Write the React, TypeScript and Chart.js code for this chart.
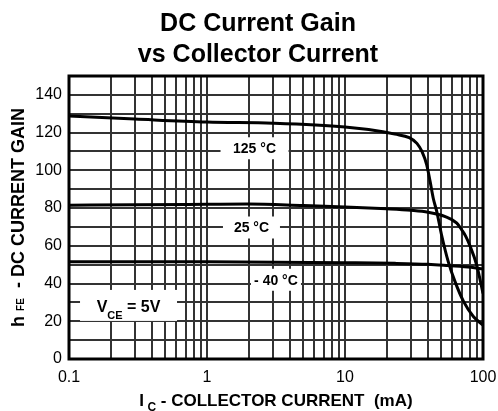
import { useEffect, useRef } from "react";
import { Chart, registerables } from "chart.js";

Chart.register(...registerables);

const FONT = "'Liberation Sans', Arial, Helvetica, sans-serif";

const TITLE_LINES = ["DC Current Gain", "vs Collector Current"];

// x grid (log) and labels
const X_GRID = [
  0.1, 0.2, 0.3, 0.4, 0.5, 0.6, 0.7, 0.8, 0.9,
  1, 2, 3, 4, 5, 6, 7, 8, 9,
  10, 20, 30, 40, 50, 60, 70, 80, 90, 100,
];
const X_LABEL_VALUES = [0.1, 1, 10, 100];
const X_LABEL_TEXT = ["0.1", "1", "10", "100"];
const Y_LABEL_VALUES = [0, 20, 40, 60, 80, 100, 120, 140];

// 125 °C
const IC_125 = [0.1, 0.3, 1, 3, 10, 18.8, 23, 29.2, 33.2, 36.1, 39.1, 41.4, 43.6, 46.3, 50, 56, 62.7, 72.4, 85.4, 100];
const HFE_125 = [128.8, 127.2, 125.6, 125, 123, 120.5, 119.2, 117.3, 114.3, 110, 102.9, 94, 85.2, 78, 66, 51.6, 41, 30.4, 22.4, 18];
// 25 °C
const IC_25 = [0.1, 0.3, 1, 2, 5, 10, 20, 30, 40, 53.3, 64.6, 70, 75, 80, 90, 100];
const HFE_25 = [81.5, 81.8, 82, 82.1, 81.3, 80.6, 79.6, 78.8, 77.8, 75.5, 72, 68.5, 65, 60.4, 49.8, 34.8];
// -40 °C
const IC_M40 = [0.1, 1, 10, 23, 40, 56, 82, 100];
const HFE_M40 = [51.6, 51.5, 51, 50.7, 50.2, 49.5, 48.6, 47.7];

// curve labels (anchored in data coordinates)
const CURVE_LABELS = ["125 °C", "25 °C", "- 40 °C"];
const CURVE_LABEL_IC = [2.21, 2.1, 3.16];
const CURVE_LABEL_HFE = [111.7, 69.7, 42];
const CURVE_LABEL_BOX_W = [68, 57, 50];
const CURVE_LABEL_BOX_H = 22;

const VCE_IC = 0.27;
const VCE_HFE = 28.4;
const VCE_BOX_W = 97;
const VCE_BOX_H = 31;

const pts = (xs: number[], ys: number[]) => xs.map((x, i) => ({ x, y: ys[i] }));

function drawPieces(ctx: CanvasRenderingContext2D, pieces: { t: string; size: number; dy: number }[], cx: number, baseY: number) {
  let total = 0;
  for (const p of pieces) {
    ctx.font = `bold ${p.size}px ${FONT}`;
    total += ctx.measureText(p.t).width;
  }
  let x = cx - total / 2;
  ctx.textAlign = "left";
  ctx.textBaseline = "alphabetic";
  for (const p of pieces) {
    ctx.font = `bold ${p.size}px ${FONT}`;
    ctx.fillText(p.t, x, baseY + p.dy);
    x += ctx.measureText(p.t).width;
  }
}

const textPlugin = {
  id: "customTexts",
  beforeDatasetsDraw(chart: any) {
    const { ctx, scales } = chart;
    const x = scales.x;
    const y = scales.y;
    ctx.save();
    CURVE_LABELS.forEach((t, i) => {
      const cx = x.getPixelForValue(CURVE_LABEL_IC[i]);
      const cy = y.getPixelForValue(CURVE_LABEL_HFE[i]);
      const w = CURVE_LABEL_BOX_W[i];
      ctx.fillStyle = "#fff";
      ctx.fillRect(cx - w / 2, cy - CURVE_LABEL_BOX_H / 2, w, CURVE_LABEL_BOX_H);
      ctx.fillStyle = "#000";
      ctx.font = `bold 14px ${FONT}`;
      ctx.textAlign = "center";
      ctx.textBaseline = "middle";
      ctx.fillText(t, cx, cy + 1);
    });
    const vx = x.getPixelForValue(VCE_IC);
    const vy = y.getPixelForValue(VCE_HFE);
    ctx.fillStyle = "#fff";
    ctx.fillRect(vx - VCE_BOX_W / 2, vy - VCE_BOX_H / 2, VCE_BOX_W, VCE_BOX_H);
    ctx.fillStyle = "#000";
    drawPieces(
      ctx,
      [
        { t: "V", size: 16, dy: 0 },
        { t: "CE", size: 11, dy: 7 },
        { t: " = 5V", size: 16, dy: 0 },
      ],
      vx,
      vy + 7
    );
    ctx.restore();
  },
  afterDraw(chart: any) {
    const { ctx, chartArea } = chart;
    ctx.save();
    // frame
    ctx.strokeStyle = "#000";
    ctx.lineWidth = 3;
    ctx.strokeRect(chartArea.left, chartArea.top, chartArea.right - chartArea.left, chartArea.bottom - chartArea.top);
    // title
    ctx.fillStyle = "#000";
    ctx.font = `bold 25px ${FONT}`;
    ctx.textAlign = "center";
    ctx.textBaseline = "alphabetic";
    ctx.fillText(TITLE_LINES[0], 258, 31);
    ctx.fillText(TITLE_LINES[1], 258, 62);
    // x title
    const cxMid = (chartArea.left + chartArea.right) / 2;
    drawPieces(
      ctx,
      [
        { t: "I", size: 17, dy: 0 },
        { t: " C", size: 12, dy: 5 },
        { t: " - COLLECTOR CURRENT  (mA)", size: 17, dy: 0 },
      ],
      cxMid,
      406
    );
    // y title
    const cyMid = (chartArea.top + chartArea.bottom) / 2;
    ctx.translate(24, cyMid);
    ctx.rotate(-Math.PI / 2);
    drawPieces(
      ctx,
      [
        { t: "h ", size: 18, dy: 0 },
        { t: "FE", size: 10, dy: 0 },
        { t: "  - DC CURRENT GAIN", size: 18, dy: 0 },
      ],
      0,
      0
    );
    ctx.restore();
  },
};

export default function App() {
  const ref = useRef<HTMLCanvasElement | null>(null);
  useEffect(() => {
    if (!ref.current) return;
    const curve = (label: string, data: any[]) => ({
      label,
      data,
      borderColor: "#000",
      backgroundColor: "#000",
      borderWidth: 3,
      pointRadius: 0,
      cubicInterpolationMode: "monotone" as const,
      fill: false,
    });
    const chart = new Chart(ref.current, {
      type: "line",
      data: {
        datasets: [
          curve("125 °C", pts(IC_125, HFE_125)),
          curve("25 °C", pts(IC_25, HFE_25)),
          curve("-40 °C", pts(IC_M40, HFE_M40)),
        ],
      },
      options: {
        animation: false,
        responsive: false,
        devicePixelRatio: 1,
        layout: { padding: { top: 76, right: 15, left: 0, bottom: 0 } },
        plugins: {
          legend: { display: false },
          title: { display: false },
          tooltip: { enabled: false },
        },
        scales: {
          x: {
            type: "logarithmic",
            min: 0.1,
            max: 100,
            afterBuildTicks: (s: any) => {
              s.ticks = X_GRID.map((v) => ({ value: v }));
            },
            afterFit: (s: any) => {
              s.height = 52;
              s.paddingLeft = 0;
              s.paddingRight = 0;
            },
            border: { display: false },
            grid: { color: "#333", lineWidth: 2, drawTicks: false },
            ticks: {
              autoSkip: false,
              maxRotation: 0,
              minRotation: 0,
              padding: 9,
              color: "#000",
              font: { family: FONT, size: 16 },
              callback: (v: any) => {
                const i = X_LABEL_VALUES.findIndex((t) => Math.abs(t - Number(v)) < 1e-9);
                return i >= 0 ? X_LABEL_TEXT[i] : "";
              },
            },
          },
          y: {
            type: "linear",
            min: 0,
            max: 150,
            afterFit: (s: any) => {
              s.width = 69;
              s.paddingTop = 0;
              s.paddingBottom = 0;
            },
            border: { display: false },
            grid: { color: "#333", lineWidth: 2, drawTicks: false },
            ticks: {
              stepSize: 10,
              autoSkip: false,
              padding: 7,
              color: "#000",
              font: { family: FONT, size: 16 },
              callback: (v: any) => (Y_LABEL_VALUES.includes(Number(v)) ? String(v) : ""),
            },
          },
        },
      },
      plugins: [textPlugin],
    });
    return () => chart.destroy();
  }, []);
  return (
    <div style={{ position: "fixed", left: 0, top: 0, width: 498, height: 411, background: "#fff" }}>
      <canvas ref={ref} width={498} height={411} />
    </div>
  );
}
